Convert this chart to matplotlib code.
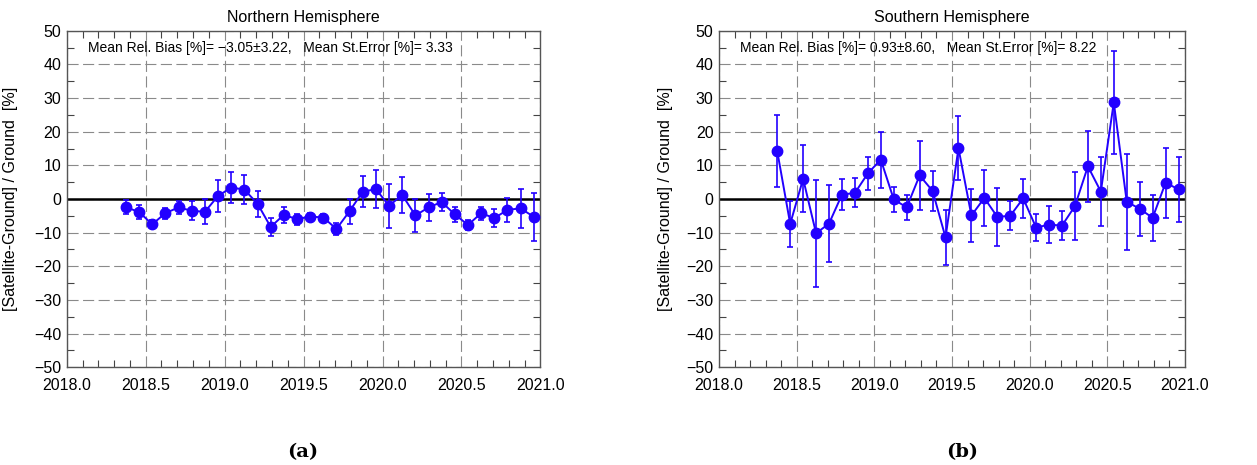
import numpy as np
import matplotlib
matplotlib.use("Agg")
import matplotlib.pyplot as plt
from matplotlib.ticker import MultipleLocator

plt.rcParams['font.family'] = ['Liberation Sans', 'DejaVu Sans']

# monthly time axis, May 2018 .. Dec 2020 (mid-month)
months = np.arange(4, 36) + 0.5
t = 2018 + months / 12.0

nh_bias = [-2.4, -3.9, -7.5, -4.2, -2.5, -3.5, -3.8, 0.9, 3.4, 2.8, -1.4, -8.3,
           -4.7, -6.0, -5.2, -5.5, -8.9, -3.6, 2.2, 2.9, -2.0, 1.2, -4.9, -2.5,
           -0.9, -4.6, -7.7, -4.2, -5.7, -3.2, -2.8, -5.3]
nh_err = [2.2, 2.1, 1.2, 1.6, 2.0, 2.8, 3.7, 4.7, 4.6, 4.4, 3.9, 2.6,
          2.4, 1.6, 1.0, 1.0, 1.9, 3.7, 4.5, 5.7, 6.5, 5.3, 4.8, 4.0,
          2.6, 2.1, 1.5, 1.9, 2.7, 3.6, 5.8, 7.1]

sh_bias = [14.2, -7.4, 6.0, -10.2, -7.3, 1.3, 1.8, 7.6, 11.7, -0.1, -2.5, 7.0,
           2.4, -11.4, 15.1, -4.9, 0.3, -5.3, -5.0, 0.2, -8.5, -7.6, -7.9, -2.1,
           9.7, 2.2, 28.7, -0.8, -2.9, -5.6, 4.8, 2.9]
sh_err = [10.7, 6.8, 9.9, 15.9, 11.5, 4.6, 4.3, 5.0, 8.3, 3.7, 3.7, 10.2,
          6.0, 8.2, 9.5, 8.0, 8.3, 8.7, 4.3, 5.7, 4.0, 5.5, 4.3, 10.0,
          10.6, 10.2, 15.3, 14.3, 8.0, 6.8, 10.4, 9.7]

titles = ["Northern Hemisphere", "Southern Hemisphere"]
stats = ["Mean Rel. Bias [%]= \u22123.05\u00b13.22,   Mean St.Error [%]= 3.33",
         "Mean Rel. Bias [%]= 0.93\u00b18.60,   Mean St.Error [%]= 8.22"]
panels = ["(a)", "(b)"]

blue = '#2200ff'

fig = plt.figure(figsize=(12.57, 4.65), dpi=100)
ax1 = fig.add_axes([0.0531, 0.2101, 0.3768, 0.7239])
ax2 = fig.add_axes([0.5720, 0.2101, 0.3707, 0.7239])

for ax, bias, err, title, stat, lab_x, panel, px in [
        (ax1, nh_bias, nh_err, titles[0], stats[0], -0.103, panels[0], 303),
        (ax2, sh_bias, sh_err, titles[1], stats[1], -0.099, panels[1], 962)]:
    ax.set_xlim(2018.0, 2021.0)
    ax.set_ylim(-50, 50)
    ax.xaxis.set_major_locator(MultipleLocator(0.5))
    ax.xaxis.set_minor_locator(MultipleLocator(0.1))
    ax.yaxis.set_major_locator(MultipleLocator(10))
    ax.yaxis.set_minor_locator(MultipleLocator(5))
    ax.xaxis.set_major_formatter(matplotlib.ticker.FormatStrFormatter('%.1f'))
    ax.tick_params(which='both', direction='in', top=True, right=True,
                   labelsize=11.5, color='#444444')
    ax.tick_params(which='major', length=0)
    ax.tick_params(axis='x', which='major', pad=8)
    ax.tick_params(axis='y', which='major', pad=4)
    ax.tick_params(which='minor', length=5, width=0.8)
    ax.grid(True, which='major', color='#8a8a8a', linestyle=(0, (10, 4)),
            linewidth=0.8)
    for s in ax.spines.values():
        s.set_color('#555555')
        s.set_linewidth(1.0)

    ax.axhline(0, color='black', lw=1.8, zorder=2)
    ax.errorbar(t, bias, yerr=err, color=blue, marker='o', markersize=7.5,
                lw=1.4, elinewidth=1.2, capsize=2.5, capthick=1.2, zorder=3)

    ax.text(0.5, 1.04, title, transform=ax.transAxes, ha='center',
            va='center', fontsize=11.5)
    ax.text(0.045, 0.949, stat, transform=ax.transAxes, ha='left',
            va='center', fontsize=10)
    ax.set_ylabel("[Satellite-Ground] / Ground  [%]", fontsize=11.5)
    ax.yaxis.set_label_coords(lab_x, 0.5)

    fig.text(px / 1257, 1 - 452 / 465, panel, ha='center', va='center',
             fontsize=14, fontweight='bold', family='DejaVu Serif')

fig.savefig("out.png", dpi=100)
